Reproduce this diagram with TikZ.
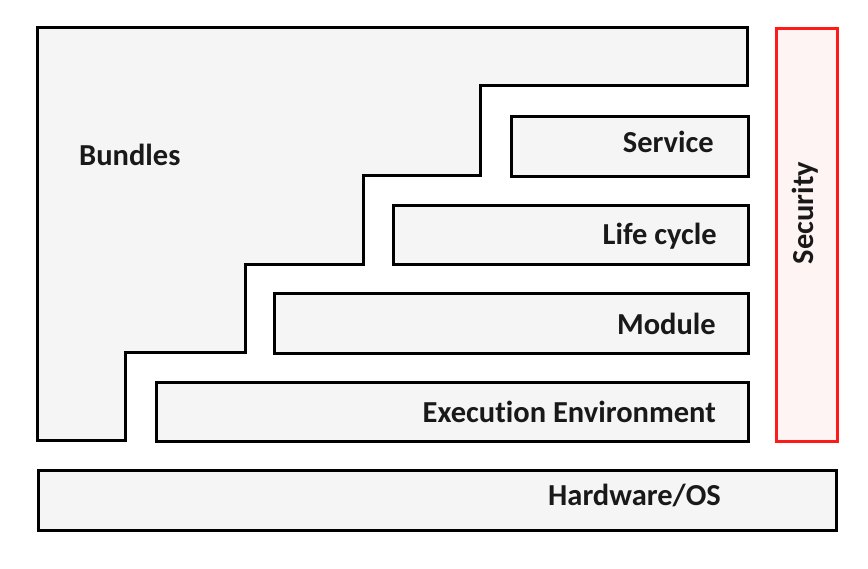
\documentclass[tikz,border=0pt]{standalone}
\usepackage{fontspec}
\setmainfont{Carlito}[Ligatures=NoCommon]
\definecolor{boxfill}{HTML}{F5F5F5}
\definecolor{secfill}{HTML}{FFF4F4}
\definecolor{secred}{HTML}{FF1A1A}
\begin{document}
\begin{tikzpicture}[x=1pt,y=-1pt,
  box/.style={draw=black, line width=3pt, fill=boxfill, inner sep=0pt, anchor=north west},
  lbl/.style={font=\bfseries\fontsize{30.5}{33}\selectfont, inner sep=0pt, text=black!90}]
\useasboundingbox (0,0) rectangle (868,568);
% Bundles staircase
\draw[line width=3pt, fill=boxfill, line join=miter]
  (37,27) coordinate (bTL) -- (747,27) -- (747,85) -- (480,85) -- (480,175) -- (363,175)
  -- (363,264) -- (245,264) -- (245,352) -- (125,352) -- (125,440) -- (37,440) -- cycle;
\node[lbl, anchor=base west] (bundles) at (79,165) {Bundles};
% layer boxes
\node[box, minimum width=237pt, minimum height=60pt] (service) at (510,115) {};
\node[box, minimum width=355pt, minimum height=59pt] (life) at (392,204) {};
\node[box, minimum width=474pt, minimum height=60pt] (module) at (273,292) {};
\node[box, minimum width=592pt, minimum height=59pt] (exec) at (155,381) {};
\node[box, minimum width=798pt, minimum height=60pt] (hw) at (37,469) {};
\node[box, draw=secred, fill=secfill, minimum width=61pt, minimum height=413pt] (sec) at (775,27) {};
% labels
\node[lbl, anchor=base east] (tservice) at ([xshift=-36pt,yshift=-6pt]service.east) {Service};
\node[lbl, anchor=base east] (tlife) at ([xshift=-33pt,yshift=-9.5pt]life.east) {Life cycle};
\node[lbl, anchor=base east] (tmodule) at ([xshift=-34pt,yshift=-11pt]module.east) {Module};
\node[lbl, anchor=base east] (texec) at ([xshift=-34pt,yshift=-10.5pt]exec.east) {Execution Environment};
\node[lbl, anchor=base east] (thw) at ([xshift=-117pt,yshift=-5pt]hw.east) {Hardware/OS};
\node[lbl, rotate=90] (tsec) at (805,213) {Security};
\end{tikzpicture}
\end{document}
